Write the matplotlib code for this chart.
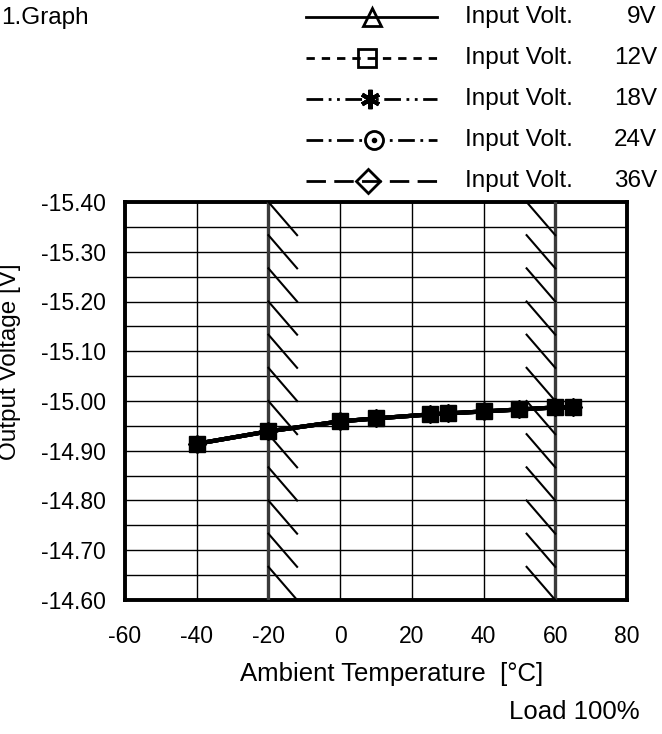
import numpy as np
import matplotlib.pyplot as plt
from matplotlib.ticker import MultipleLocator, FormatStrFormatter

plt.rcParams['font.family'] = ['Liberation Sans', 'DejaVu Sans']
plt.rcParams['axes.unicode_minus'] = False

# data (all input voltages lie on top of each other)
temp = [-40, -20, 0, 10, 25, 30, 40, 50, 60, 65]
v_9 = [-14.914, -14.939, -14.959, -14.965, -14.973, -14.975, -14.979, -14.983, -14.987, -14.987]
v_12 = [-14.914, -14.939, -14.959, -14.965, -14.973, -14.975, -14.979, -14.983, -14.987, -14.987]
v_18 = [-14.914, -14.939, -14.959, -14.965, -14.973, -14.975, -14.979, -14.983, -14.987, -14.987]
v_24 = [-14.914, -14.939, -14.959, -14.965, -14.973, -14.975, -14.979, -14.983, -14.987, -14.987]
v_36 = [-14.914, -14.939, -14.959, -14.965, -14.973, -14.975, -14.979, -14.983, -14.987, -14.987]
series = [v_9, v_18, v_24, v_36, v_12]
series_markers = ['^', (6, 2, 0), 'o', 'D', 's']
volt_labels = ['9V', '12V', '18V', '24V', '36V']
markers = ['^', 's', (6, 2, 0), 'o', 'D']
styles = ['-', (0, (3, 2.5)), (0, (6, 2, 1, 2, 1, 2)), (0, (6, 2, 1, 2)), (0, (7, 3))]
derating = [-20, 60]

fs = 16.5
fig = plt.figure(figsize=(6.62, 7.34), dpi=100)
ax = fig.add_axes([125/662, 1-600/734, 502/662, 398/734])

# square is drawn last so every point looks like a filled black block
for vals, mk in zip(series, series_markers):
    ax.plot(temp, vals, color='black', lw=3, marker=mk,
            ms=12 if mk == 's' else 9, mfc='black', mec='black', zorder=5)

ax.set_xlim(-60, 80)
ax.set_ylim(-14.60, -15.40)
ax.xaxis.set_major_locator(MultipleLocator(20))
ax.yaxis.set_major_locator(MultipleLocator(0.1))
ax.yaxis.set_minor_locator(MultipleLocator(0.05))
ax.yaxis.set_major_formatter(FormatStrFormatter('%.2f'))
ax.grid(True, which='both', color='black', lw=1.0)
ax.tick_params(which='both', length=0, labelsize=fs)
ax.tick_params(axis='x', pad=18)
ax.tick_params(axis='y', pad=13.5)
for s in ax.spines.values():
    s.set_linewidth(2.8)

# derating lines with hatching
n_seg = 12
step = 0.8 / n_seg
for xv, side in zip(derating, [1, -1]):
    ax.axvline(xv, color='#3a3a3a', lw=2.4, zorder=3)
    for i in range(n_seg):
        y0 = -15.40 + i * step
        if side == 1:
            ax.plot([xv, xv + 8], [y0, y0 + step], color='black', lw=1.5, zorder=3)
        else:
            ax.plot([xv - 8, xv], [y0, y0 + step], color='black', lw=1.5, zorder=3)

# legend drawn in pixel coordinates
lg = fig.add_axes([0, 0, 1, 1])
lg.set_xlim(0, 662)
lg.set_ylim(734, 0)
lg.axis('off')
rows = [17, 58, 99, 140, 181]
mk_x = [372, 367, 370, 374, 368]
for y, mk, mx, ls, vl in zip(rows, markers, mk_x, styles, volt_labels):
    lg.plot([306, 437], [y, y], color='black', lw=2, ls=ls)
    if mk == (6, 2, 0):
        lg.plot([mx], [y], marker=mk, ms=14, color='black', mew=3)
    elif mk == 'o':
        lg.plot([mx], [y], marker='o', ms=13, mfc='white', mec='black', mew=2)
        lg.plot([mx], [y], marker='o', ms=3, color='black')
    else:
        lg.plot([mx], [y], marker=mk, ms=13 if mk != 'D' else 12,
                mfc='none', mec='black', mew=2)
    lg.text(465, y, 'Input Volt.', fontsize=17.5, va='center', ha='left')
    lg.text(657, y, vl, fontsize=17.5, va='center', ha='right')

fig.text(1/662, 1-18/734, '1.Graph', fontsize=17.5, va='center', ha='left')
fig.text(10/662, 1-362/734, 'Output Voltage [V]', fontsize=17.5, rotation=90,
         va='center', ha='center')
fig.text(392/662, 1-674/734, 'Ambient Temperature  [°C]', fontsize=18.5,
         va='center', ha='center')
fig.text(640/662, 1-712/734, 'Load 100%', fontsize=18.5, va='center', ha='right')

fig.savefig('out.png', dpi=100)
